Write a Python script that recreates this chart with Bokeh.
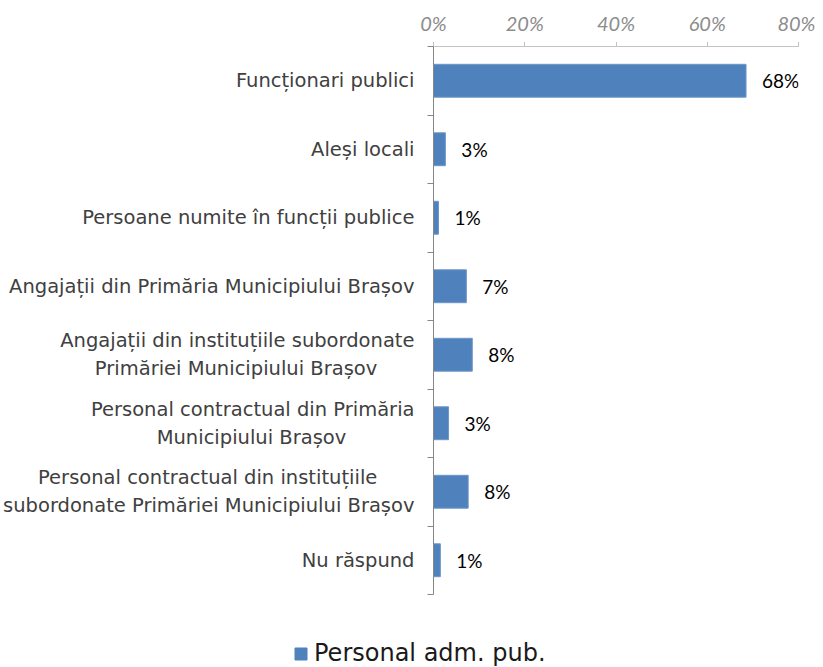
from bokeh.plotting import figure
from bokeh.layouts import column
from bokeh.models import (Range1d, FixedTicker, PrintfTickFormatter, Legend,
                          LegendItem, ColumnDataSource)
from bokeh.embed import file_html
from bokeh.resources import INLINE
from bokeh.core.properties import value

NB = "\u00a0"
categories = [
    "Funcționari publici",
    "Aleși locali",
    "Persoane numite în funcții publice",
    "Angajații din Primăria Municipiului Brașov",
    "Angajații din instituțiile subordonate\nPrimăriei Municipiului Brașov" + NB * 6,
    "Personal contractual din Primăria\nMunicipiului Brașov" + NB * 11,
    "Personal contractual din instituțiile" + NB * 6 + "\nsubordonate Primăriei Municipiului Brașov",
    "Nu răspund",
]
values = [68.5, 2.6, 1.1, 7.2, 8.5, 3.3, 7.6, 1.5]
value_labels = ["68%", "3%", "1%", "7%", "8%", "3%", "8%", "1%"]
x_ticks = [0, 20, 40, 60, 80]
series_name = "Personal adm. pub."

BLUE = "#4F81BD"
n = len(categories)
ypos = [i + 0.5 for i in range(n)]
bounds = list(range(n + 1))

src = ColumnDataSource(dict(y=ypos, v=values, lab=value_labels))

p = figure(width=815, height=600, output_backend="svg", toolbar_location=None,
           x_range=Range1d(0, 80), y_range=Range1d(n, 0),
           x_axis_location="above",
           min_border_left=428, min_border_right=17,
           min_border_top=46, min_border_bottom=6)
p.frame_align = False
p.outline_line_color = None
p.xgrid.visible = False
p.ygrid.visible = False
p.background_fill_color = None
p.border_fill_color = "white"

bars = p.hbar(y="y", right="v", left=0, height=0.48, source=src,
              fill_color=BLUE, line_color="#6F97C9", line_width=1)

p.text(x="v", y="y", text="lab", source=src, x_offset=16,
       text_align="left", text_baseline="middle",
       text_font=value("Lato"), text_font_size="19px", text_color="#000000")

# top axis
xa = p.xaxis[0]
xa.ticker = FixedTicker(ticks=x_ticks)
xa.formatter = PrintfTickFormatter(format="%d%%")
xa.axis_line_color = "#868686"
xa.axis_line_dash = "1 1"
xa.major_tick_line_color = "#868686"
xa.major_tick_line_dash = "1 1"
xa.major_tick_out = 4
xa.major_tick_in = 0
xa.minor_tick_line_color = None
xa.major_label_text_font = "Lato"
xa.major_label_text_font_style = "italic"
xa.major_label_text_font_size = "20px"
xa.major_label_text_color = "#8C8C8C"
xa.major_label_standoff = 8

# left axis
ya = p.yaxis[0]
ya.ticker = FixedTicker(ticks=ypos, minor_ticks=bounds)
ya.major_label_overrides = {y: c for y, c in zip(ypos, categories)}
ya.axis_line_color = "#868686"
ya.major_tick_line_color = None
ya.major_tick_out = 0
ya.major_tick_in = 0
ya.minor_tick_line_color = "#868686"
ya.minor_tick_out = 6
ya.minor_tick_in = 0
ya.major_label_standoff = 13
ya.major_label_text_font = "DejaVu Sans"
ya.major_label_text_font_size = "19.5px"
ya.major_label_text_color = "#404040"

# legend strip (its frame is kept away from the bars' value range)
lg = figure(width=815, height=67, output_backend="svg", toolbar_location=None,
            x_range=Range1d(0, 1), y_range=Range1d(100, 101),
            x_axis_type=None, y_axis_type=None,
            min_border_left=0, min_border_right=0,
            min_border_top=0, min_border_bottom=0)
lg.frame_align = False
lg.outline_line_color = None
lg.xgrid.visible = False
lg.ygrid.visible = False
lg.background_fill_color = None
lg.border_fill_color = "white"
proxy = lg.hbar(y="y", right="v", left=0, height=0.48, source=src,
                fill_color=BLUE, line_color=BLUE)

legend = Legend(items=[LegendItem(label=series_name, renderers=[proxy])],
                location=(293, 0), orientation="horizontal",
                margin=0, padding=0, border_line_color=None,
                background_fill_alpha=0, glyph_width=15, glyph_height=15,
                label_standoff=6, label_text_font="DejaVu Sans",
                label_text_font_size="24px", label_text_color="#1A1A1A")
lg.add_layout(legend, "center")

layout = column(p, lg, spacing=0)
open("out.html", "w").write(file_html(layout, INLINE))
